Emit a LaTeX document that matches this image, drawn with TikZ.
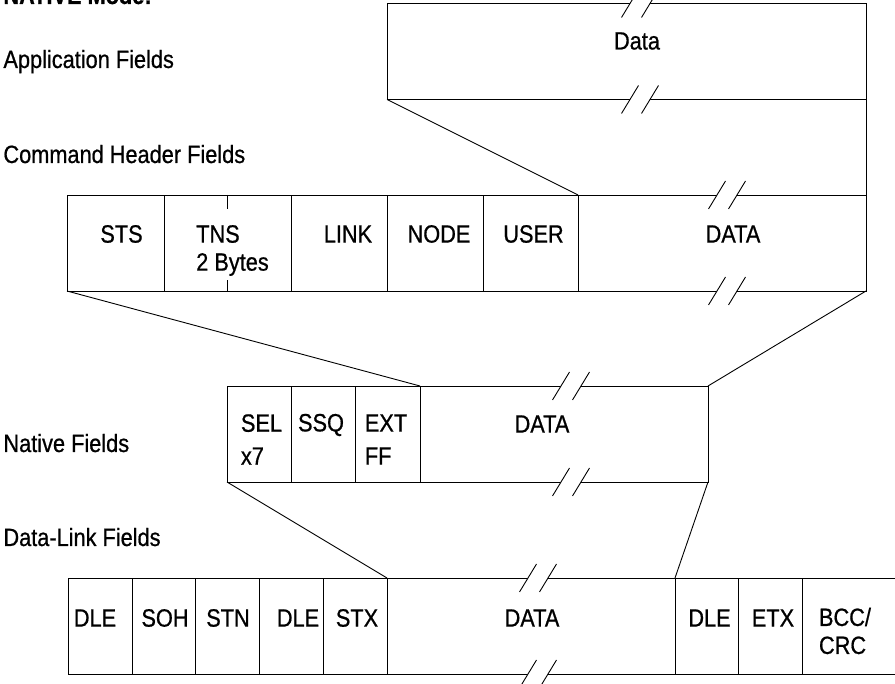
\documentclass[tikz,border=0pt]{standalone}
\usepackage{fontspec}
\setmainfont{Liberation Sans}[FakeStretch=0.87, FakeBold=0.7]
\usetikzlibrary{positioning}

\tikzset{
  field/.style={draw, inner sep=0pt, outer sep=0pt, minimum height=96},
  txt/.style={font=\fontsize{25}{28}\selectfont, inner sep=0pt, align=left},
  side/.style={txt, anchor=base west},
  brk/.pic={
    \fill[white] (-18.5,14) -- (-1.5,-14) -- (18.5,-14) -- (1.5,14) -- cycle;
    \draw (-18.5,14) -- (-1.5,-14) (1.5,14) -- (18.5,-14);
  }
}

\begin{document}
\begin{tikzpicture}[x=1pt, y=-1pt, line width=0.9pt]
  \useasboundingbox (0,0) rectangle (895,684);

  % side labels
  \node[side, font=\fontsize{25}{28}\selectfont\bfseries] (title) at (3,4) {NATIVE Mode:};
  \node[side] (appl)   at (3,68)  {Application Fields};
  \node[side] (cmdl)   at (3,163) {Command Header Fields};
  \node[side] (natl)   at (3,452) {Native Fields};
  \node[side] (linkl)  at (3,546) {Data-Link Fields};

  % application fields
  \node[field, minimum width=479] (appdata) at (626.5,51.5) {};
  \node[txt] (appdatal) at ([xshift=10.5pt,yshift=10.5pt]appdata) {Data};

  % command header fields
  \node[field, minimum width=97]  (sts)    at (115.5,243)        {};
  \node[field, minimum width=127] (tns)    [right=0pt of sts]    {};
  \node[field, minimum width=96]  (link)   [right=0pt of tns]    {};
  \node[field, minimum width=96]  (nodef)  [right=0pt of link]   {};
  \node[field, minimum width=95]  (user)   [right=0pt of nodef]  {};
  \node[field, minimum width=288] (chdata) [right=0pt of user]   {};
  \draw (tns.north) -- ++(0,14);
  \draw (tns.south) -- ++(0,-11);

  \node[txt] (stsl)    at ([xshift=6pt,yshift=9pt]sts)     {STS};
  \node[txt] (tnsl)    at ([xshift=5pt,yshift=-7.5pt]tns)  {TNS\\2 Bytes};
  \node[txt] (linkl2)  at ([xshift=9pt,yshift=9pt]link)    {LINK};
  \node[txt] (nodel)   at ([xshift=4pt,yshift=9pt]nodef)   {NODE};
  \node[txt] (userl)   at ([xshift=3pt,yshift=9pt]user)    {USER};
  \node[txt] (chdatal) at ([xshift=11pt,yshift=9pt]chdata) {DATA};

  % native fields
  \node[field, minimum width=64]  (sel)   at (259,434)         {};
  \node[field, minimum width=64]  (ssq)   [right=0pt of sel]   {};
  \node[field, minimum width=65]  (ext)   [right=0pt of ssq]   {};
  \node[field, minimum width=288] (ndata) [right=0pt of ext]   {};

  \node[txt, font=\fontsize{25}{33}\selectfont] (sell) at ([xshift=2.5pt,yshift=-5.5pt]sel)  {SEL\\x7};
  \node[txt] (ssql)   at ([xshift=-2pt,yshift=9pt]ssq)       {SSQ};
  \node[txt, font=\fontsize{25}{33}\selectfont] (extl) at ([xshift=-1.5pt,yshift=-5.5pt]ext) {EXT\\FF};
  \node[txt] (ndatal) at ([xshift=-22pt,yshift=10pt]ndata)   {DATA};

  % data-link fields
  \node[field, minimum width=64]  (dlea)   at (100,626)          {};
  \node[field, minimum width=63]  (soh)    [right=0pt of dlea]   {};
  \node[field, minimum width=64]  (stn)    [right=0pt of soh]    {};
  \node[field, minimum width=64]  (dleb)   [right=0pt of stn]    {};
  \node[field, minimum width=64]  (stx)    [right=0pt of dleb]   {};
  \node[field, minimum width=288] (dldata) [right=0pt of stx]    {};
  \node[field, minimum width=63]  (dlec)   [right=0pt of dldata] {};
  \node[field, minimum width=64]  (etx)    [right=0pt of dlec]   {};
  \node[field, minimum width=96]  (bcc)    [right=0pt of etx]    {};

  \node[txt] (dleal)   at ([xshift=-5pt,yshift=8pt]dlea)   {DLE};
  \node[txt] (sohl)    at ([xshift=1.5pt,yshift=8pt]soh)   {SOH};
  \node[txt] (stnl)    at ([xshift=1pt,yshift=8pt]stn)     {STN};
  \node[txt] (dlebl)   at ([xshift=7pt,yshift=8pt]dleb)    {DLE};
  \node[txt] (stxl)    at ([xshift=2pt,yshift=8pt]stx)     {STX};
  \node[txt] (dldatal) at ([xshift=1pt,yshift=8pt]dldata)  {DATA};
  \node[txt] (dlecl)   at ([xshift=3pt,yshift=8pt]dlec)    {DLE};
  \node[txt] (etxl)    at ([xshift=3pt,yshift=8pt]etx)     {ETX};
  \node[txt] (bccl)    at ([xshift=-5pt,yshift=-5pt]bcc)   {BCC/\\CRC};

  % fan lines between the levels
  \draw (appdata.south west) -- (chdata.north west);
  \draw (appdata.south east) -- (chdata.north east);
  \draw (sts.south west)     -- (ndata.north west);
  \draw (chdata.south east)  -- (ndata.north east);
  \draw (sel.south west)     -- (dldata.north west);
  \draw (ndata.south east)   -- (dlec.north west);

  % break marks
  \pic at ([xshift=13.5pt]appdata.north) {brk};
  \pic at ([xshift=13.5pt]appdata.south) {brk};
  \pic at ([xshift=5pt]chdata.north) {brk};
  \pic at ([xshift=5pt]chdata.south) {brk};
  \pic at ([xshift=7pt]ndata.north) {brk};
  \pic at ([xshift=7pt]ndata.south) {brk};
  \pic at ([xshift=7pt]dldata.north) {brk};
  \pic at ([xshift=7pt]dldata.south) {brk};
\end{tikzpicture}
\end{document}
